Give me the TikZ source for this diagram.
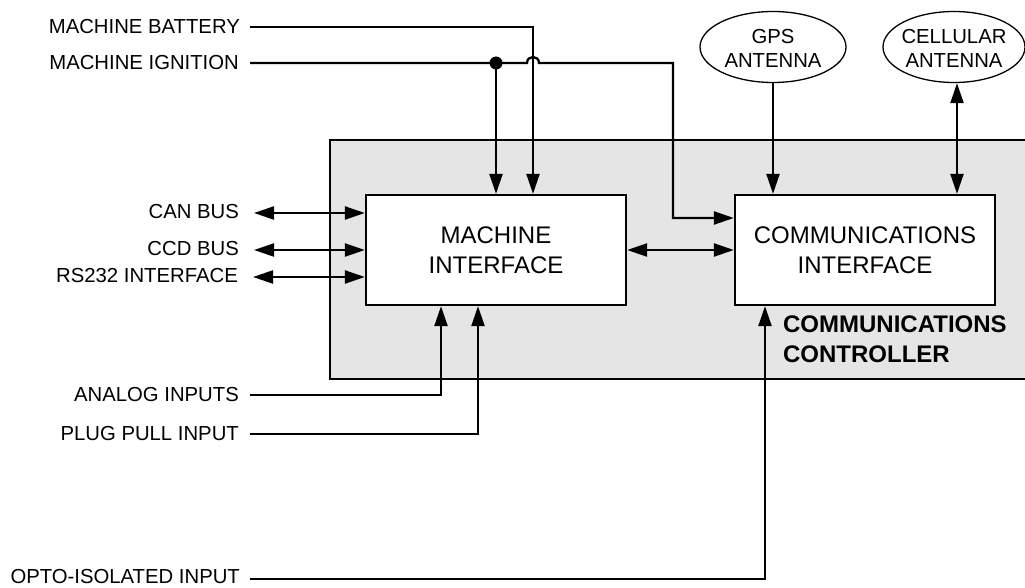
\documentclass[tikz,border=0pt]{standalone}
\usepackage{fontspec}
\setmainfont{Liberation Sans}
\usetikzlibrary{arrows.meta,shapes.geometric}
\tikzset{
  mytip/.tip={Triangle[length=20pt,width=13pt]},
  arr/.style={-mytip},
  barr/.style={mytip-mytip},
  lbl/.style={anchor=east, inner sep=0pt, font=\fontsize{20.3}{24}\selectfont},
  box/.style={draw, fill=white, minimum width=260pt, minimum height=110pt, inner sep=0pt, align=center, font=\fontsize{24}{30}\selectfont},
  ant/.style={draw, ellipse, line width=1.3pt, fill=white, minimum height=71pt, inner sep=0pt},
  anttext/.style={align=center, inner sep=0pt, font=\fontsize{20.3}{24}\selectfont},
  junction/.style={circle, fill, inner sep=0pt, minimum size=13pt},
}
\begin{document}
\begin{tikzpicture}[x=1pt,y=-1pt,line width=2.3pt]
\useasboundingbox (0,0) rectangle (1025,588);
% controller area
\fill[gray!20] (330,140) rectangle (1025,379);
\draw (1025,140) -- (330,140) -- (330,379) -- (1025,379);
% boxes
\node[box] (mi) at (496,250) {MACHINE\\INTERFACE};
\node[box] (ci) at (865,250) {COMMUNICATIONS\\INTERFACE};
\node[anchor=west, align=left, inner sep=0pt, font=\bfseries\fontsize{24}{30}\selectfont] (cc) at (782,339) {COMMUNICATIONS\\CONTROLLER};
% antennas
\node[ant, minimum width=146pt] (gps) at (773,47) {};
\node[anttext] (gpst) at (773,48) {GPS\\ANTENNA};
\node[ant, minimum width=142pt] (cell) at (954,47) {};
\node[anttext] (cellt) at (954,48) {CELLULAR\\ANTENNA};
\draw[arr] (gps.south) -- (gps.south |- ci.north);
\draw[barr] ([xshift=3pt]cell.south) -- ([xshift=3pt]cell.south |- ci.north);
% battery and ignition
\node[lbl] (bat) at (241,27) {MACHINE BATTERY};
\node[lbl] (ign) at (240,63) {MACHINE IGNITION};
\coordinate (batX) at (533,0);
\draw[arr] ([xshift=9pt]bat.east) -| (batX |- mi.north);
\node[junction] (dot) at (496,63) {};
\coordinate (ignturn) at (673,218);
\draw[arr] ([xshift=10pt]ign.east) -- (527,63) .. controls (527,55) and (539,55) .. (539,63) -- (673,63) -- (ignturn) -- (ignturn -| ci.west);
\draw[arr] (dot.center) -- (dot.center |- mi.north);
% buses
\node[lbl] (can) at (240,212) {CAN BUS};
\node[lbl] (ccd) at (240,249) {CCD BUS};
\node[lbl] (rs) at (239,276) {RS232 INTERFACE};
\draw[barr] ([xshift=14pt,yshift=-1pt]can.east) -- ([yshift=-1pt]can.east -| mi.west);
\draw[barr] ([xshift=14pt,yshift=-1pt]ccd.east) -- ([yshift=-1pt]ccd.east -| mi.west);
\draw[barr] ([xshift=14pt,yshift=-1pt]rs.east) -- ([yshift=-1pt]rs.east -| mi.west);
% between interfaces
\draw[barr] (mi.east) -- (ci.west);
% bottom inputs
\node[lbl] (ana) at (240,395) {ANALOG INPUTS};
\node[lbl] (plug) at (240,434) {PLUG PULL INPUT};
\node[lbl] (opto) at (241,577) {OPTO-ISOLATED INPUT};
\coordinate (anaX) at (441,0);
\coordinate (plugX) at (478,0);
\coordinate (optoX) at (765,0);
\draw[arr] ([xshift=10pt]ana.east) -| (anaX |- mi.south);
\draw[arr] ([xshift=10pt]plug.east) -| (plugX |- mi.south);
\draw[arr] ([xshift=9pt,yshift=-2pt]opto.east) -| (optoX |- ci.south);
\end{tikzpicture}
\end{document}
